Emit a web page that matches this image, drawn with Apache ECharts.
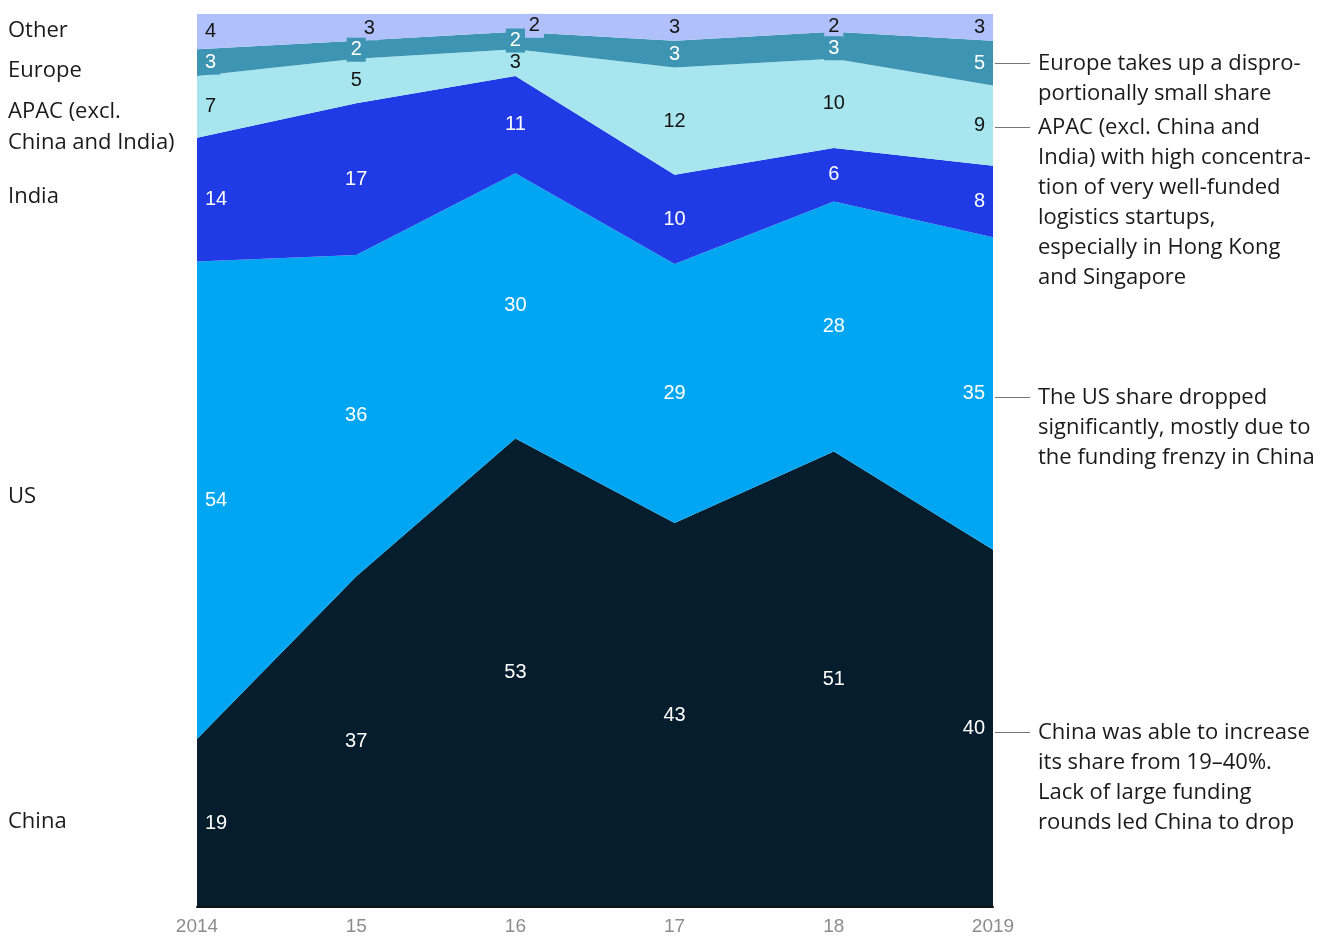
<!DOCTYPE html>
<html>
<head>
<meta charset="utf-8">
<script src="https://cdn.jsdelivr.net/npm/echarts@6/dist/echarts.min.js"></script>
<style>
html,body{margin:0;padding:0;background:#fff;}
#chart{width:1321px;height:936px;}
</style>
</head>
<body>
<div id="chart"></div>
<script>
// ---- data ----
const categories = ['2014', '15', '16', '17', '18', '2019'];
const seriesNames = ['China', 'US', 'India', 'APAC (excl. China and India)', 'Europe', 'Other'];
const china  = [19, 37, 53, 43, 51, 40];
const us     = [54, 36, 30, 29, 28, 35];
const india  = [14, 17, 11, 10, 6, 8];
const apac   = [7, 5, 3, 12, 10, 9];
const europe = [3, 2, 2, 3, 3, 5];
const other  = [4, 3, 2, 3, 2, 3];

const allSeries = [china, us, india, apac, europe, other];
const colors = ['#061d2e', '#00a6f2', '#203be6', '#a8e6ef', '#3d95b3', '#afc0fa'];
const labelColors = ['#ffffff', '#ffffff', '#ffffff', '#141414', '#ffffff', '#141414'];

// totals per year (used to scale each year to 100%)
const totals = categories.map((_, i) => allSeries.reduce((s, arr) => s + arr[i], 0));
const pct = allSeries.map(arr => arr.map((v, i) => v / totals[i] * 100));

const FONT = '"Open Sans", "Liberation Sans", Arial, sans-serif';

const areaSeries = pct.map((arr, k) => ({
  name: seriesNames[k],
  type: 'line',
  stack: 'total',
  data: arr,
  symbol: 'none',
  lineStyle: { width: 0 },
  areaStyle: { color: colors[k], opacity: 1 },
  itemStyle: { color: colors[k] },
  z: 2,
  silent: true
}));

// small manual nudges for crowded labels
const nudges = { '5-1': [13, 1], '5-2': [19, 3], '5-4': [0, 4], '4-4': [0, 3] };

const labelSeries = pct.map((arr, k) => {
  const data = arr.map((v, i) => {
    let base = 0;
    for (let j = 0; j < k; j++) base += pct[j][i];
    const mid = base + v / 2;
    let align = 'center', offset = [0, 0];
    if (i === 0) { align = 'left'; offset = [4, 0]; }
    if (i === categories.length - 1) { align = 'right'; offset = [-4, 0]; }
    const nk = k + '-' + i;
    if (nudges[nk]) offset = [offset[0] + nudges[nk][0], offset[1] + nudges[nk][1]];
    return {
      value: [i, mid],
      raw: allSeries[k][i],
      label: { align: align, offset: offset }
    };
  });
  return {
    type: 'scatter',
    data: data,
    symbolSize: 0,
    itemStyle: { color: colors[k], opacity: 1 },
    z: k === 4 ? 6 : 5,
    silent: true,
    emphasis: { disabled: true },
    label: {
      show: true,
      position: 'inside',
      formatter: p => String(p.data.raw),
      color: labelColors[k],
      opacity: 1,
      textBorderWidth: 0,
      textBorderColor: 'transparent',
      fontFamily: '"Liberation Sans", Arial, sans-serif',
      fontSize: 20,
      lineHeight: 20,
      backgroundColor: colors[k],
      padding: [3, 4, 1, 4],
      verticalAlign: 'middle'
    }
  };
});

const chart = echarts.init(document.getElementById('chart'), null, { renderer: 'canvas' });

const leftLabels = [
  { text: 'Other', y: 31 },
  { text: 'Europe', y: 71 },
  { text: 'APAC (excl.\nChina and India)', y: 127 },
  { text: 'India', y: 197 },
  { text: 'US', y: 497 },
  { text: 'China', y: 822 }
];

const notes = [
  { y: 63, text: 'Europe takes up a dispro-\nportionally small share' },
  { y: 127, text: 'APAC (excl. China and\nIndia) with high concentra-\ntion of very well-funded\nlogistics startups,\nespecially in Hong Kong\nand Singapore' },
  { y: 397, text: 'The US share dropped\nsignificantly, mostly due to\nthe funding frenzy in China' },
  { y: 732, text: 'China was able to increase\nits share from 19\u201340%.\nLack of large funding\nrounds led China to drop' }
];

const graphics = [];
leftLabels.forEach(l => {
  const lines = l.text.split('\n').length;
  graphics.push({
    type: 'text', left: 8, top: l.y - lines * 31 / 2,
    style: { text: l.text, font: '22px ' + FONT, fill: '#1a1a1a', lineHeight: 31 }
  });
});
notes.forEach(n => {
  graphics.push({
    type: 'line', shape: { x1: 995, y1: n.y + 0.5, x2: 1030, y2: n.y + 0.5 },
    style: { stroke: '#777', lineWidth: 1 }
  });
  graphics.push({
    type: 'text', left: 1038, top: n.y - 14,
    style: { text: n.text, font: '22px ' + FONT, fill: '#1a1a1a', lineHeight: 30 }
  });
});

chart.setOption({
  animation: false,
  backgroundColor: '#ffffff',
  grid: { left: 197, right: 328, top: 14, bottom: 29, containLabel: false },
  xAxis: {
    type: 'category',
    data: categories,
    boundaryGap: false,
    axisLine: { show: true, lineStyle: { color: '#111', width: 2 } },
    axisTick: { show: false },
    axisLabel: { color: '#8c8c8c', fontSize: 19, fontFamily: '"Liberation Sans Narrow", "Liberation Sans", sans-serif', margin: 10 },
    splitLine: { show: false },
    z: 10
  },
  yAxis: {
    type: 'value', min: 0, max: 100,
    show: false,
    splitLine: { show: false }
  },
  series: areaSeries.concat(labelSeries),
  graphic: graphics
});
</script>
</body>
</html>
